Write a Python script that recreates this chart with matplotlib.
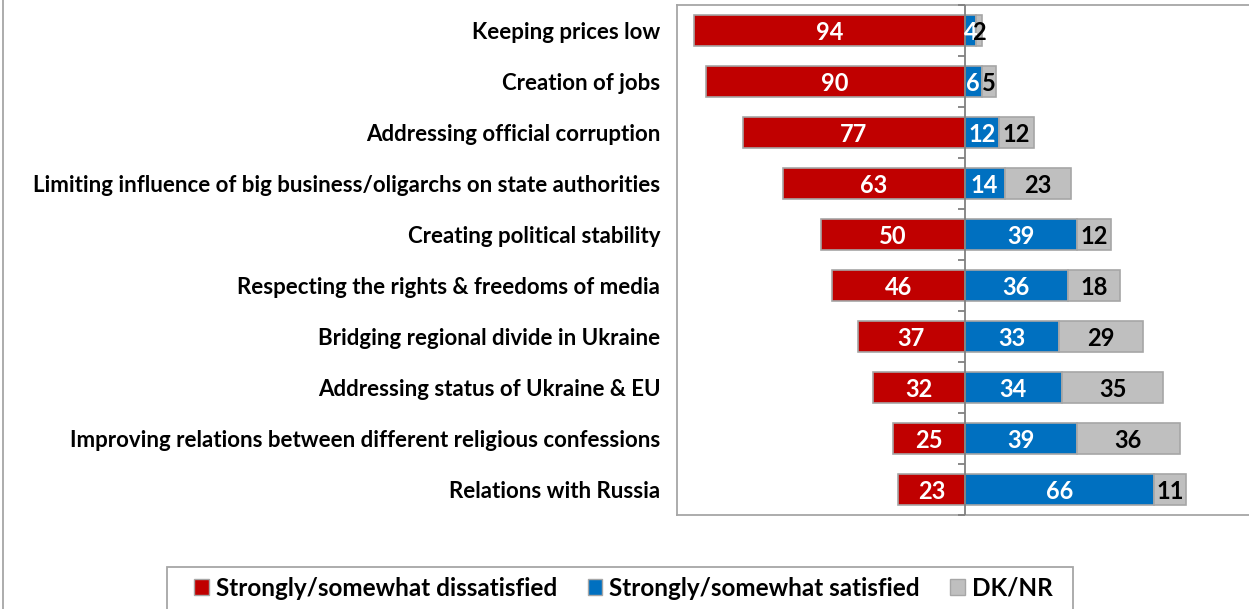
import matplotlib
matplotlib.use("Agg")
import matplotlib.pyplot as plt
import numpy as np
from matplotlib.patches import Patch, Rectangle
from matplotlib.lines import Line2D
from matplotlib.markers import TICKLEFT

plt.rcParams['font.family'] = ['Lato', 'DejaVu Sans']
plt.rcParams['font.weight'] = 'bold'

categories = [
    "Keeping prices low",
    "Creation of jobs",
    "Addressing official corruption",
    "Limiting influence of big business/oligarchs on state authorities",
    "Creating political stability",
    "Respecting the rights & freedoms of media",
    "Bridging regional divide in Ukraine",
    "Addressing status of Ukraine & EU",
    "Improving relations between different religious confessions",
    "Relations with Russia",
]
dissatisfied = [94, 90, 77, 63, 50, 46, 37, 32, 25, 23]
satisfied = [4, 6, 12, 14, 39, 36, 33, 34, 39, 66]
dk_nr = [2, 5, 12, 23, 12, 18, 29, 35, 36, 11]
series_names = ["Strongly/somewhat dissatisfied", "Strongly/somewhat satisfied", "DK/NR"]

RED = "#C00000"
BLUE = "#0070C0"
GREY = "#BFBFBF"
EDGE = "#A6A6A6"
FRAME = "#A6A6A6"

W, H = 1249, 609
fig = plt.figure(figsize=(W / 100, H / 100), dpi=100)
ax = fig.add_axes([677 / W, (H - 515) / H, 575 / W, 510 / H])

n = len(categories)
y = np.arange(n)
dis = np.array(dissatisfied)
sat = np.array(satisfied)
dk = np.array(dk_nr)
bh = 0.62

ax.barh(y, -dis, height=bh, color=RED, edgecolor=EDGE, linewidth=1.2, zorder=2)
ax.barh(y, sat, height=bh, color=BLUE, edgecolor=EDGE, linewidth=1.2, zorder=2)
ax.barh(y, dk, left=sat, height=bh, color=GREY, edgecolor=EDGE, linewidth=1.2, zorder=2)

label_fs = 16
value_fs = 17
legend_fs = 17.5
for i in range(n):
    ax.text(-dis[i] / 2, y[i], str(dis[i]), ha="center", va="center_baseline",
            color="white", fontsize=value_fs, fontweight="bold", zorder=4)
    ax.text(sat[i] / 2, y[i], str(sat[i]), ha="center", va="center_baseline",
            color="white", fontsize=value_fs, fontweight="bold", zorder=4)
    ax.text(sat[i] + dk[i] / 2, y[i], str(dk[i]), ha="center", va="center_baseline",
            color="black", fontsize=value_fs, fontweight="bold", zorder=4)

ax.set_xlim(-100, 100)
ax.set_ylim(n - 0.5, -0.5)
ax.set_xticks([])
ax.set_yticks(y)
ax.set_yticklabels(categories, fontsize=label_fs, fontweight="bold")
ax.tick_params(axis="y", length=0, pad=12)

# zero axis with boundary tick marks
ax.axvline(0, color="#808080", lw=1.3, zorder=3)
bounds = np.arange(n + 1) - 0.5
ax.plot(np.zeros(n + 1), bounds, linestyle="none", marker=TICKLEFT,
        ms=5, mew=1.3, color="#808080", zorder=3, clip_on=False)

for side in ["left", "top", "bottom"]:
    ax.spines[side].set_color(FRAME)
    ax.spines[side].set_linewidth(1.3)
ax.spines["right"].set_visible(False)

# outer chart border
fig.add_artist(Line2D([3 / W, 3 / W], [0, 1], transform=fig.transFigure,
                      color=FRAME, lw=1.3))

# legend frame
fig.add_artist(Rectangle((167 / W, -0.05), (1073 - 167) / W, 0.05 + 1 - 567 / H,
                         transform=fig.transFigure, facecolor="white",
                         edgecolor=FRAME, lw=1.3))

handles = [Patch(facecolor=c, edgecolor=EDGE, linewidth=1.0) for c in (RED, BLUE, GREY)]
leg = fig.legend(handles, series_names, loc="center left",
                 bbox_to_anchor=(194 / W, 1 - 588 / H), ncol=3,
                 frameon=False, borderaxespad=0, borderpad=0,
                 prop={"size": legend_fs, "weight": "bold"},
                 handlelength=0.6, handleheight=0.6, handletextpad=0.3,
                 columnspacing=1.25)

fig.savefig("out.png", dpi=100)
